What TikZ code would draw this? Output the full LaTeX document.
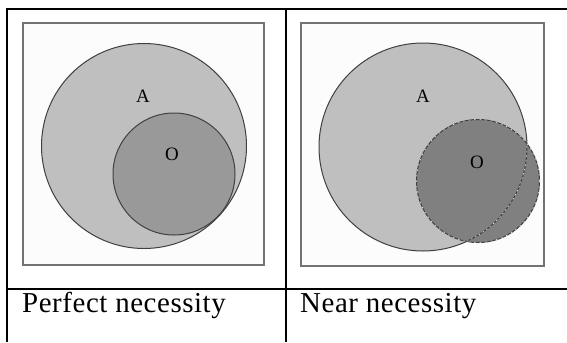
\documentclass[tikz,border=0pt]{standalone}
\usepackage{fontspec}
\setmainfont{Liberation Serif}
\newfontfamily\capfnt[LetterSpace=2]{Liberation Serif}
\begin{document}
\begin{tikzpicture}[x=1bp,y=-1bp,
  rule/.style={line width=2.2bp,black},
  panel/.style={draw=black!55,line width=1.3bp,fill=black!1},
  bigc/.style={circle,draw=black!75,line width=1bp,fill=black!25,inner sep=0pt},
  smallc/.style={circle,draw=black!75,line width=1bp,inner sep=0pt},
  lbl/.style={font=\fontsize{19}{19}\selectfont,inner sep=0pt},
  captext/.style={font=\capfnt\fontsize{29}{30}\selectfont,anchor=base west,inner sep=0pt}]
\useasboundingbox (0,0) rectangle (567,342);
\fill[white] (0,0) rectangle (567,342);
% table rules
\draw[rule] (6,9) -- (567,9);
\draw[rule] (6,289) -- (567,289);
\draw[rule] (7,8) -- (7,342);
\draw[rule] (286,8) -- (286,342);
% left panel
\draw[panel] (23,23) rectangle (264,265);
\node[bigc,minimum size=205bp] (A1) at (144,146) {};
\node[smallc,fill=black!40,minimum size=122bp] (O1) at (174,174) {};
\node[lbl] (a1) at (143,96) {A};
\node[lbl] (o1) at (172,154) {O};
% right panel
\draw[panel] (301,23) rectangle (544,266);
\node[bigc,minimum size=208bp] (A2) at (423,147) {};
\node[smallc,fill=black!50,minimum size=123bp] (O2) at (478,181) {};
\begin{scope}
\clip (O2.center) circle (61.5bp);
\draw[black!75,line width=1bp] (A2.center) circle (104bp);
\draw[white,line width=0.5bp,dash pattern=on 1.5bp off 3bp] (A2.center) circle (104bp);
\end{scope}
\draw[white,line width=0.5bp,dash pattern=on 1.5bp off 4bp] (O2.center) circle (61.5bp);
\node[lbl] (a2) at (423,96) {A};
\node[lbl] (o2) at (477,162) {O};
% captions
\node[captext] (c1) at (22,312.5) {Perfect necessity};
\node[captext] (c2) at (300,312.5) {Near necessity};
\end{tikzpicture}
\end{document}
